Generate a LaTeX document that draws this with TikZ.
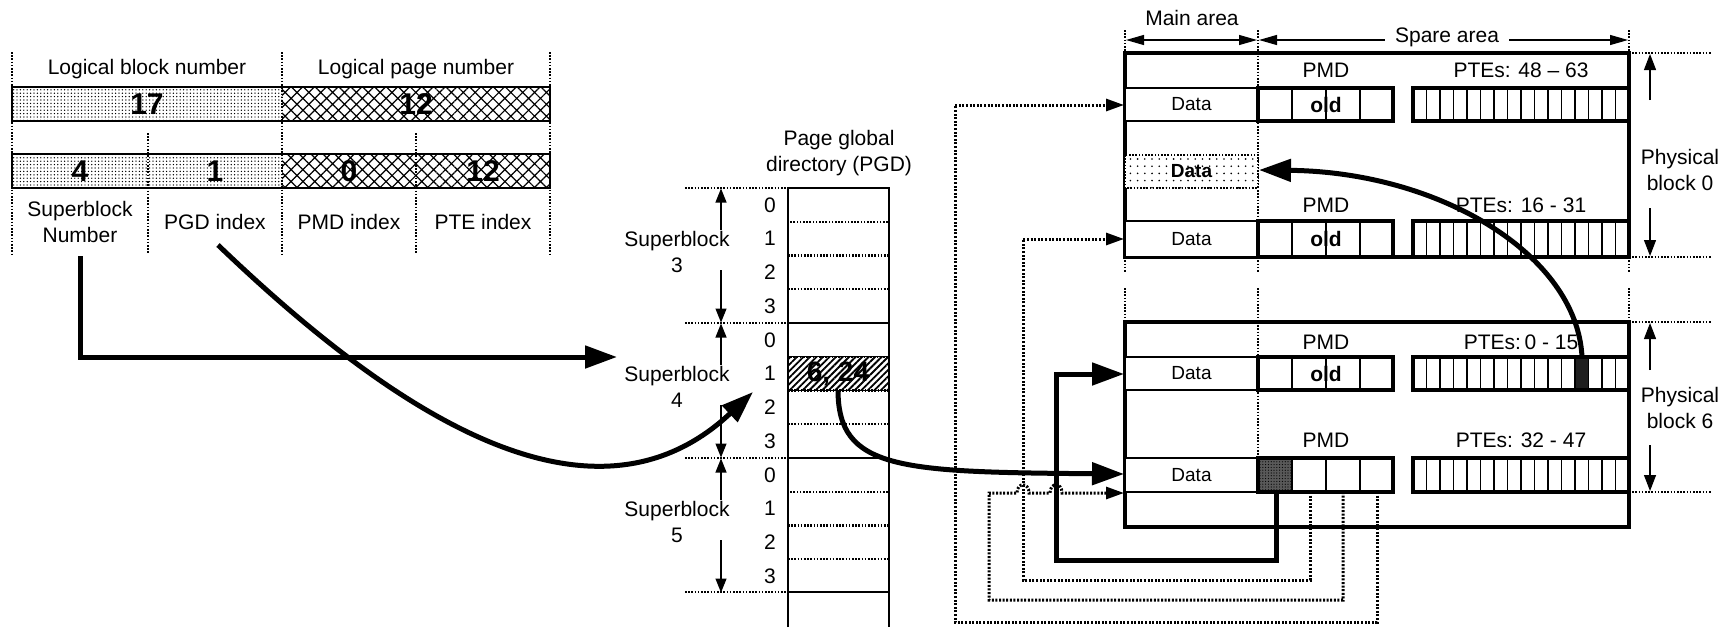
\documentclass[tikz,border=0pt]{standalone}
\usepackage{fontspec}
\setmainfont{Liberation Sans}
\usetikzlibrary{arrows.meta,patterns.meta}
\begin{document}
\begin{tikzpicture}[x=0.5pt,y=-0.5pt,
  thin/.style={line width=0.6pt},
  blk/.style={line width=1.8pt},
  boxl/.style={line width=1.6pt},
  fat/.style={line width=2.5pt,line join=miter,-{Triangle[length=16pt,width=11pt]}},
  dotc/.style={line width=1.5pt,dash pattern=on 1pt off 0.8pt},
  dotarr/.style={dotc,-{Triangle[length=9pt,width=6pt]}},
  sdot/.style={line width=1.05pt,dash pattern=on 0.8pt off 0.8pt},
  tarr/.style={line width=0.6pt,-{Triangle[length=7pt,width=5.5pt]}},
  lab/.style={font=\fontsize{10.5}{13}\selectfont,inner sep=0pt,align=center},
  datal/.style={font=\fontsize{9.5}{11}\selectfont,inner sep=0pt},
  num/.style={font=\fontsize{15}{16}\bfseries\selectfont,inner sep=0pt},
]
\useasboundingbox (0,0) rectangle (1733,627);

% ---------------- logical address table ----------------
\fill[pattern={Dots[distance=1.7pt,radius=0.36pt]}] (12,87) rectangle (282,121);
\fill[pattern={Hatch[angle=45,distance=4.2pt,line width=0.6pt]}] (282,87) rectangle (550,121);
\fill[pattern={Dots[distance=1.7pt,radius=0.36pt]}] (12,154) rectangle (282,188);
\fill[pattern={Hatch[angle=45,distance=4.2pt,line width=0.6pt]}] (282,154) rectangle (550,188);
\draw[thin] (12,87) rectangle (550,121);
\draw[thin] (12,154) rectangle (550,188);
\foreach \x in {12,282,550} \draw[sdot] (\x,52) -- (\x,254);
\foreach \x in {148,416} \draw[sdot] (\x,133) -- (\x,254);
\node[lab] (lbn) at (147,69) {Logical block number};
\node[lab] (lpn) at (416,69) {Logical page number};
\node[num] (n17) at (147,104) {17};
\node[num] (n12a) at (416,104) {12};
\node[num] (n4) at (80,171) {4};
\node[num] (n1) at (215,171) {1};
\node[num] (n0) at (349,171) {0};
\node[num] (n12b) at (483,171) {12};
\node[lab] (sbn) at (80,221.5) {Superblock\\Number};
\node[lab] (pgdi) at (215,222) {PGD index};
\node[lab] (pmdi) at (349,222) {PMD index};
\node[lab] (ptei) at (483,222) {PTE index};

% ---------------- PGD ----------------
\node[lab] (pgdt) at (839,153.5) {Page global\\directory (PGD)};
\draw[thin] (788,627) -- (788,188) -- (889,188) -- (889,627);
\fill[pattern={Lines[angle=45,distance=2.3pt,line width=0.9pt]}] (788,356.7) rectangle (889,390.5);
\draw[thin] (788,356.7) rectangle (889,390.5);
\node[font=\fontsize{14}{15}\bfseries\selectfont,inner sep=0pt] (pgdent) at (838,374) {6, 24};
\foreach \T/\n in {188/3,323/4,458/5}{
  \draw[sdot] (788,\T+33.7) rectangle (889,\T+101);
  \draw[sdot] (788,\T+67.5) -- (889,\T+67.5);
  \node[lab] at (677,\T+63.5) {Superblock\\\n};
  \draw[tarr] (721,\T+42) -- (721,\T+0.5);
  \draw[tarr] (721,\T+82) -- (721,\T+134.5);
  \foreach \k in {0,1,2,3} \node[lab] at (770,\T+17+33.7*\k) {\k};
}
\foreach \T in {323,458,592} \draw[thin] (788,\T) -- (889,\T);
\foreach \T in {188,323,458,592} \draw[sdot] (685,\T) -- (822,\T);

% ---------------- physical blocks ----------------
\node[lab] (mainl) at (1192,18) {Main area};
\draw[line width=0.6pt,{Triangle[length=9pt,width=5pt]}-{Triangle[length=9pt,width=5pt]}] (1126,40) -- (1257,40);
\draw[line width=0.6pt,{Triangle[length=9pt,width=5pt]}-{Triangle[length=9pt,width=5pt]}] (1259,40) -- (1628,40);
\node[lab,fill=white,inner xsep=5pt,inner ysep=2pt] (sparel) at (1447,37) {Spare area};

\foreach \x in {1125,1258,1629}{
  \draw[sdot] (\x,30) -- (\x,273);
  \draw[sdot] (\x,288) -- (\x,322);
}
\draw[sdot] (1258,322) -- (1258,458);
\foreach \y in {53,257,322,492} \draw[sdot] (1629,\y) -- (1712,\y);

% block 0
\draw[blk] (1125,53) rectangle (1629,257);
% block 6
\draw[blk] (1125,322) rectangle (1629,527);

% rows: top y, bottom y, label y, PTE label
\foreach \a/\b/\ly/\pte in {88/121/70/{PTEs: 48 – 63},221/257/205/{PTEs: 16 - 31},357/390/342/{PTEs:\,0 - 15},458/492/440/{PTEs: 32 - 47}}{
  \draw[thin,fill=white] (1125,\a) rectangle (1258,\b);
  \node[datal] at (1191.5,{(\a+\b)/2}) {Data};
  \node[lab] at (1326,\ly) {PMD};
  \node[lab] at (1521,\ly) {\pte};
}
% dark cells
\fill[black!65] (1258,458) rectangle (1292,492);
\fill[pattern={Dots[distance=1.4pt,radius=0.3pt]},pattern color=black] (1258,458) rectangle (1292,492);
\fill[black!88] (1575,357) rectangle (1588.5,390);
\foreach \a/\b in {88/121,221/257,357/390,458/492}{
  \foreach \x in {1292,1326,1360} \draw[thin] (\x,\a) -- (\x,\b);
  \draw[boxl] (1258,\a) rectangle (1393,\b);
  \foreach \k in {1,...,15} \draw[thin] (1413+13.5*\k,\a) -- (1413+13.5*\k,\b);
  \draw[boxl] (1413,\a) rectangle (1629,\b);
}
\foreach \a/\b in {88/121,221/257,357/390}
  \node[lab,font=\fontsize{10.5}{12}\bfseries\selectfont] at (1326,{(\a+\b)/2}) {old};

% dotted data row in block 0
\fill[white] (1125,155) rectangle (1258,188);
\fill[pattern={Dots[distance=3.6pt,radius=0.45pt]}] (1125,155) rectangle (1258,188);
\draw[sdot] (1125,155) rectangle (1258,188);
\node[datal,font=\fontsize{9.5}{11}\bfseries\selectfont] (newdata) at (1191.5,171.5) {Data};

\node[lab] (pb0) at (1680,170) {Physical\\block 0};
\node[lab] (pb6) at (1680,408) {Physical\\block 6};
\draw[line width=0.6pt,-{Triangle[length=8pt,width=6pt]}] (1650,100) -- (1650,54);
\draw[line width=0.6pt,-{Triangle[length=8pt,width=6pt]}] (1650,208) -- (1650,256);
\draw[line width=0.6pt,-{Triangle[length=8pt,width=6pt]}] (1650,370) -- (1650,323);
\draw[line width=0.6pt,-{Triangle[length=8pt,width=6pt]}] (1650,445) -- (1650,491);

% ---------------- connectors ----------------
\coordinate (sbs) at (80,256);
\coordinate (sbt) at (617,357);
\draw[fat] (sbs) |- (sbt);

\coordinate (pgs) at (218,245);
\coordinate (pgt) at (753,392);
\draw[fat] (pgs) .. controls (390,410) and (590,545) .. (pgt);

\coordinate (ens) at (838,390);
\coordinate (ent) at (1124,474);
\draw[fat] (ens) .. controls (838,470) and (900,472) .. (ent);

\coordinate (pts) at (1582,357);
\coordinate (ptt) at (1259,170);
\draw[fat] (pts) .. controls (1577,255) and (1440,172) .. (ptt);

\coordinate (c0) at (1276,492);
\coordinate (d6a) at (1124,374);
\draw[fat] (c0) -- (1276,560) -- (1056,560) -- (1056,374) -- (d6a);

\coordinate (c1) at (1310,492);
\coordinate (d0b) at (1124,239);
\draw[dotarr] (c1) -- (1310,580) -- (1023,580) -- (1023,239) -- (d0b);

\coordinate (c2) at (1343,492);
\coordinate (d6b) at (1124,493);
\draw[dotarr] (c2) -- (1343,600) -- (989,600) -- (989,493) -- (1017,493)
  .. controls (1017,482) and (1029,482) .. (1029,493) -- (1050,493)
  .. controls (1050,482) and (1062,482) .. (1062,493) -- (d6b);

\coordinate (c3) at (1377,492);
\coordinate (d0a) at (1124,105);
\draw[dotarr] (c3) -- (1377,622) -- (955,622) -- (955,105) -- (d0a);
\end{tikzpicture}
\end{document}
